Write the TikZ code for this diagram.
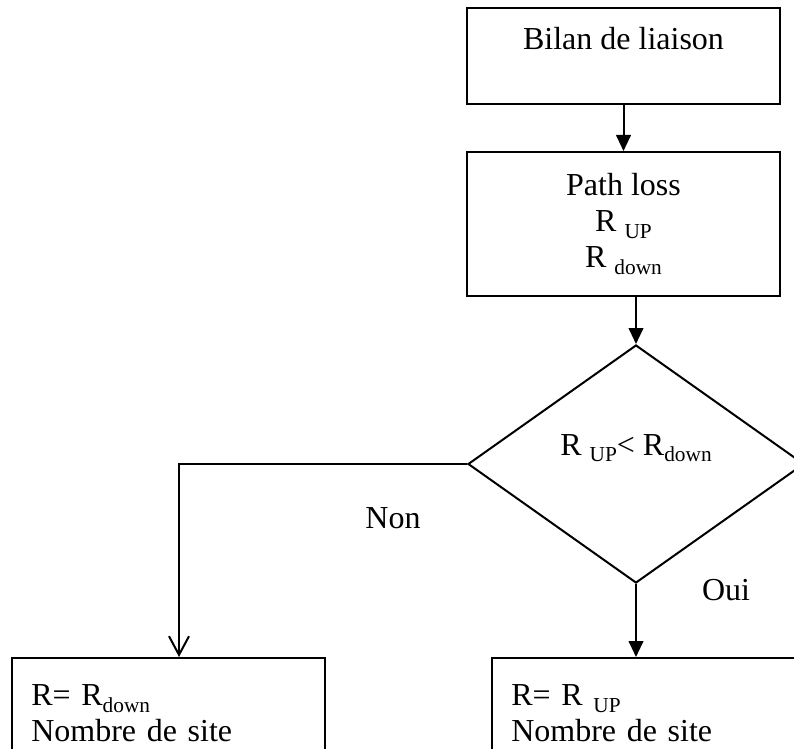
\documentclass[tikz,border=0pt]{standalone}
\usepackage{fontspec}
\setmainfont{Liberation Serif}
\usetikzlibrary{shapes.geometric}
\usetikzlibrary{arrows.meta}
\usetikzlibrary{positioning}

\newcommand{\rsub}[1]{\raisebox{-5pt}{\fontsize{16}{16}\selectfont #1}}

\begin{document}
\begin{tikzpicture}[
		x=0.75pt, y=-0.75pt,
		every node/.style={font=\fontsize{24}{27}\selectfont},
		box/.style={draw, line width=1.5pt, minimum width=235pt},
		flow/.style={draw, line width=1.5pt, -{Triangle[length=12pt, width=11pt]}},
		noflow/.style={draw, line width=1.5pt, -{Straight Barb[length=14pt, width=15pt]}}
	]
	\useasboundingbox (0,0) rectangle (794,749);

	% Link budget and path loss
	\node[box, inner ysep=0pt, text height=31.5pt, text depth=40.5pt] (bilan) at (623.5,56) {Bilan de liaison};
	\node[box, minimum height=108pt, align=center] (pathloss) at (623.5,224)
	{Path loss\\R \rsub{UP}\\R \rsub{down}};

	% Test
	\node[draw, diamond, line width=1.5pt, minimum width=252pt, minimum height=178.5pt,
		inner sep=0pt, text height=18pt, text depth=31.5pt] (test) at (636,464)
	{R \rsub{UP}< R\rsub{down}};

	% Results
	\node[box, anchor=north west, align=left, text width=206pt, inner xsep=14pt, inner ysep=20pt] (resdown) at (11,657)
	{R= R\rsub{down}\\Nombre de site\\ \mbox{}};
	\node[box, anchor=north west, align=left, text width=206pt, inner xsep=14pt, inner ysep=20pt] (resup) at (491,657)
	{R= R \rsub{UP}\\Nombre de site\\ \mbox{}};

	% Arrows
	\draw[flow] (bilan.south) -- (pathloss.north);
	\draw[flow] (test.north |- pathloss.south) -- (test.north);
	\coordinate (nonturn) at (179,464);
	\draw[noflow] (test.west) -- (nonturn) -- (nonturn |- resdown.north);
	\draw[flow] (test.south) -- (test.south |- resup.north);

	\node (non) at (393,518) {Non};
	\node (oui) at (726,590) {Oui};

\end{tikzpicture}
\end{document}
